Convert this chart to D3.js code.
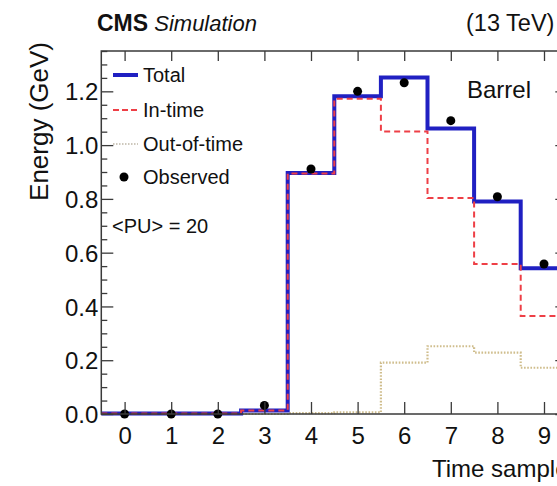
<!DOCTYPE html>
<html>
<head>
<meta charset="utf-8">
<script src="https://cdn.jsdelivr.net/npm/d3@7"></script>
<style>
  html, body { margin: 0; padding: 0; background: #fff; }
  svg { display: block; font-family: "Liberation Sans", Arial, Helvetica, sans-serif; }
</style>
</head>
<body>
<svg id="chart" width="557" height="486"></svg>
<script>
// Time-sample bins of the pulse
const samples = [0, 1, 2, 3, 4, 5, 6, 7, 8, 9];
// Energy per time sample (GeV)
const totalEnergy     = [0.002, 0.002, 0.002, 0.013, 0.896, 1.182, 1.251, 1.062, 0.790, 0.542];
const inTimeEnergy    = [0.002, 0.002, 0.002, 0.013, 0.894, 1.172, 1.051, 0.803, 0.558, 0.364];
const outOfTimeEnergy = [0.000, 0.000, 0.000, 0.000, 0.003, 0.006, 0.191, 0.252, 0.228, 0.172];
const observedEnergy  = [0.000, 0.000, 0.000, 0.032, 0.911, 1.200, 1.232, 1.091, 0.808, 0.558];
// Axis ticks
const yMajorTicks = [0.0, 0.2, 0.4, 0.6, 0.8, 1.0, 1.2];
const yMinorTicks = d3.range(0, 1.351, 0.05).filter(v => Math.abs(v * 5 - Math.round(v * 5)) > 1e-6);
const legendLabels = ["Total", "In-time", "Out-of-time", "Observed"];

const svg = d3.select("#chart");
const frameLeft = 101.3, frameRight = 567.3, frameTop = 51, frameBottom = 414;

const x = d3.scaleLinear().domain([-0.5, 9.5]).range([frameLeft, frameRight]);
const y = d3.scaleLinear().domain([0, 1.35]).range([frameBottom, frameTop]);

const axisColor = "#3a3a3a";
const fontTick = 24;

// Histogram outline: one horizontal segment per bin, vertical jumps at bin edges
function stepPoints(values) {
  const pts = values.map((v, i) => [samples[i] - 0.5, v]);
  pts.push([samples[samples.length - 1] + 0.5, values[values.length - 1]]);
  return pts;
}
const stepLine = d3.line().x(d => x(d[0])).y(d => y(d[1])).curve(d3.curveStepAfter);

const plot = svg.append("g");

plot.append("path")
  .attr("d", stepLine(stepPoints(outOfTimeEnergy)))
  .attr("fill", "none").attr("stroke", "#cfbd8c").attr("stroke-width", 2.2)
  .attr("stroke-dasharray", "1.6 1.6");

plot.append("path")
  .attr("d", stepLine(stepPoints(totalEnergy)))
  .attr("fill", "none").attr("stroke", "#2020c2").attr("stroke-width", 4);

plot.append("path")
  .attr("d", stepLine(stepPoints(inTimeEnergy)))
  .attr("fill", "none").attr("stroke", "#ee3f46").attr("stroke-width", 2)
  .attr("stroke-dasharray", "6 4");

plot.selectAll("circle.obs")
  .data(observedEnergy)
  .join("circle")
  .attr("class", "obs")
  .attr("cx", (d, i) => x(samples[i]))
  .attr("cy", d => y(d))
  .attr("r", 4.5)
  .attr("fill", "#000");

// Frame
svg.append("rect")
  .attr("x", frameLeft).attr("y", frameTop)
  .attr("width", frameRight - frameLeft).attr("height", frameBottom - frameTop)
  .attr("fill", "none").attr("stroke", axisColor).attr("stroke-width", 1.5);

// Left axis: major ticks with labels, minor ticks
const yAxis = svg.append("g").attr("transform", `translate(${frameLeft},0)`)
  .call(d3.axisLeft(y).tickValues(yMajorTicks).tickSize(-12).tickPadding(3)
    .tickFormat(d3.format(".1f")));
const yAxisMinor = svg.append("g").attr("transform", `translate(${frameLeft},0)`)
  .call(d3.axisLeft(y).tickValues(yMinorTicks).tickSize(-6).tickFormat(""));
// Right axis ticks
const yAxisR = svg.append("g").attr("transform", `translate(${frameRight},0)`)
  .call(d3.axisRight(y).tickValues(yMajorTicks).tickSize(-12).tickFormat(""));
const yAxisRMinor = svg.append("g").attr("transform", `translate(${frameRight},0)`)
  .call(d3.axisRight(y).tickValues(yMinorTicks).tickSize(-6).tickFormat(""));
// Bottom axis
const xAxis = svg.append("g").attr("transform", `translate(0,${frameBottom})`)
  .call(d3.axisBottom(x).tickValues(samples).tickSize(-12).tickPadding(13)
    .tickFormat(d3.format("d")));
// Top axis ticks
const xAxisT = svg.append("g").attr("transform", `translate(0,${frameTop})`)
  .call(d3.axisTop(x).tickValues(samples).tickSize(-10).tickFormat(""));

[yAxis, yAxisMinor, yAxisR, yAxisRMinor, xAxis, xAxisT].forEach(g => {
  g.select(".domain").remove();
  g.selectAll(".tick line").attr("stroke", axisColor).attr("stroke-width", 1.3);
  g.selectAll("text").attr("font-family", "'Liberation Sans', Arial, sans-serif")
    .attr("font-size", fontTick).attr("fill", "#111");
});
yAxis.selectAll("text").attr("dy", "0.36em");

// Axis titles
svg.append("text")
  .attr("transform", `translate(48,42) rotate(-90)`)
  .attr("text-anchor", "end")
  .attr("font-size", 26).attr("fill", "#111")
  .text("Energy (GeV)");

svg.append("text")
  .attr("x", 432).attr("y", 477)
  .attr("font-size", 24).attr("fill", "#111")
  .text("Time samples");

// Header
const head = svg.append("text").attr("x", 97).attr("y", 31).attr("font-size", 22).attr("fill", "#111");
head.append("tspan").attr("font-weight", "bold").attr("font-size", 23).text("CMS");
head.append("tspan").attr("font-style", "italic").text(" Simulation");

svg.append("text")
  .attr("x", 466).attr("y", 31)
  .attr("font-size", 23.5).attr("fill", "#111")
  .text("(13 TeV)");

svg.append("text")
  .attr("x", 467).attr("y", 98)
  .attr("font-size", 24).attr("fill", "#111")
  .text("Barrel");

// Legend
const legend = svg.append("g");
const legendY = [75, 110, 144, 177];
const legendX0 = 113, legendX1 = 138, legendTextX = 143;
legend.append("line").attr("x1", legendX0).attr("x2", legendX1)
  .attr("y1", legendY[0]).attr("y2", legendY[0])
  .attr("stroke", "#2020c2").attr("stroke-width", 4);
legend.append("line").attr("x1", legendX0).attr("x2", legendX1)
  .attr("y1", legendY[1]).attr("y2", legendY[1])
  .attr("stroke", "#ee3f46").attr("stroke-width", 2).attr("stroke-dasharray", "6 3");
legend.append("line").attr("x1", legendX0).attr("x2", legendX1)
  .attr("y1", legendY[2]).attr("y2", legendY[2])
  .attr("stroke", "#bdb6a6").attr("stroke-width", 1.6).attr("stroke-dasharray", "1.5 1.5");
legend.append("circle").attr("cx", 124).attr("cy", legendY[3]).attr("r", 4.5).attr("fill", "#000");
legend.selectAll("text.lab")
  .data(legendLabels)
  .join("text")
  .attr("class", "lab")
  .attr("x", legendTextX)
  .attr("y", (d, i) => legendY[i] + 7)
  .attr("font-size", 20).attr("fill", "#111")
  .text(d => d);

svg.append("text")
  .attr("x", 112).attr("y", 233)
  .attr("font-size", 20).attr("fill", "#111")
  .text("<PU> = 20");
</script>
</body>
</html>
